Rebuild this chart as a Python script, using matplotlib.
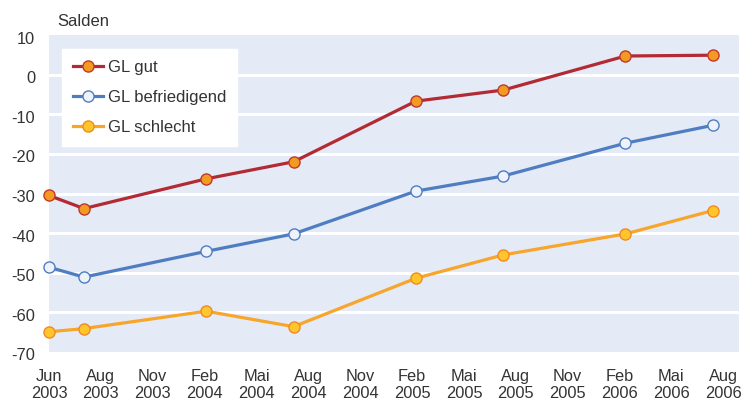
import numpy as np
import matplotlib.pyplot as plt
from matplotlib.transforms import ScaledTranslation

# months since June 2003
months = [0, 2, 9, 14, 21, 26, 33, 38]
gl_gut = [-30.5, -33.8, -26.3, -22.0, -6.7, -3.9, 4.7, 4.9]
gl_befr = [-48.6, -51.1, -44.6, -40.2, -29.4, -25.6, -17.3, -12.8]
gl_schl = [-64.9, -64.1, -59.7, -63.6, -51.4, -45.5, -40.2, -34.3]

tick_labels = ['Jun\n2003', 'Aug\n2003', 'Nov\n2003', 'Feb\n2004', 'Mai\n2004',
               'Aug\n2004', 'Nov\n2004', 'Feb\n2005', 'Mai\n2005', 'Aug\n2005',
               'Nov\n2005', 'Feb\n2006', 'Mai\n2006', 'Aug\n2006']
tick_pos = np.linspace(0, 38.6, len(tick_labels))

plt.rcParams['font.family'] = ['Liberation Sans', 'DejaVu Sans']
plt.rcParams['axes.unicode_minus'] = False
fs = 12
txt = '#333333'

fig = plt.figure(figsize=(7.44, 4.03), dpi=100)
ax = fig.add_axes([49/744, 1-352/403, 690/744, 317/403])
ax.set_facecolor('#E4EAF6')

for y in range(-60, 10, 10):
    ax.axhline(y, color='white', lw=2.2, zorder=1)

lw = 2.3
ms = 8
ax.plot(months, gl_gut, color='#B22A33', lw=lw, marker='o', ms=ms,
        mfc='#F39A22', mec='#C0392B', mew=1.0, label='GL gut', zorder=3, clip_on=False)
ax.plot(months, gl_befr, color='#4F7DC1', lw=lw, marker='o', ms=ms,
        mfc='#EEF2FA', mec='#4F7DC1', mew=1.0, label='GL befriedigend', zorder=3, clip_on=False)
ax.plot(months, gl_schl, color='#F7A52B', lw=lw, marker='o', ms=ms,
        mfc='#FFC62C', mec='#F08A24', mew=1.0, label='GL schlecht', zorder=3, clip_on=False)

ax.set_xlim(0, 39.5)
ax.set_ylim(-70, 10)
ax.set_yticks(range(-70, 11, 10))
ax.set_xticks(tick_pos)
ax.set_xticklabels(tick_labels, linespacing=1.15)
ax.tick_params(axis='both', length=0, labelsize=11.8, labelcolor=txt)
ax.tick_params(axis='x', pad=12.5)
ax.tick_params(axis='y', pad=10)
for lab in ax.get_yticklabels():
    lab.set_transform(lab.get_transform() + ScaledTranslation(0, -2.5/100, fig.dpi_scale_trans))
for s in ax.spines.values():
    s.set_visible(False)

fig.text(57/744, 1-21/403, 'Salden', fontsize=fs, color=txt, va='center', ha='left')

leg = ax.legend(loc='upper left', bbox_to_anchor=(13/690, (352-49)/317), borderaxespad=0,
                fontsize=fs, frameon=True, fancybox=False, handlelength=1.8,
                handletextpad=0.3, labelspacing=0.9, borderpad=0.65)
leg.get_frame().set_facecolor('white')
leg.get_frame().set_edgecolor('white')
leg.get_frame().set_alpha(1)
for t in leg.get_texts():
    t.set_color(txt)

fig.savefig('out.png', dpi=100)
